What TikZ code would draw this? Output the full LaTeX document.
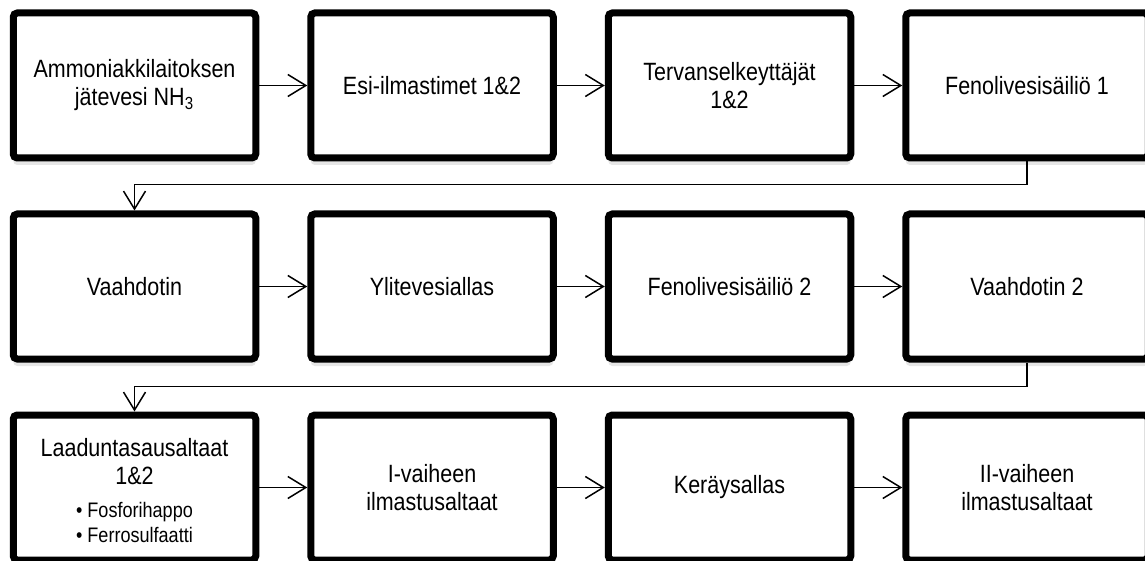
\documentclass[tikz,border=0pt]{standalone}
\usepackage{fontspec}
\setmainfont{Liberation Sans}[FakeStretch=0.86]
\usepackage{tikz}
\usetikzlibrary{positioning}
\usetikzlibrary{arrows.meta}
\usetikzlibrary{shadows}
\usepackage{xcolor}

\tikzset{
	stage/.style={draw=black, fill=white, line width=3.5pt, rounded corners=2pt,
		minimum width=121.25pt, minimum height=72.5pt, inner sep=2pt, align=center,
		font=\fontsize{12.5}{14}\selectfont,
		drop shadow={shadow xshift=0pt, shadow yshift=-3.5pt, opacity=0.2}},
	flow/.style={black, line width=0.75pt, -{Straight Barb[length=9pt, width=11pt]}},
}

\begin{document}
\begin{tikzpicture}
	\clip (0,0) rectangle (572.5pt,-280.5pt);
	\useasboundingbox (0,0) rectangle (572.5pt,-280.5pt);

	\node[stage] (amm) at (67.25pt,-42.75pt) {Ammoniakkilaitoksen\\j\"atevesi NH\textsubscript{3}};
	\node[stage, right=24pt of amm] (esi) {Esi-ilmastimet 1\&2};
	\node[stage, right=24pt of esi] (terva) {Tervanselkeytt\"aj\"at\\1\&2};
	\node[stage, right=24pt of terva] (fenA) {Fenolivesis\"aili\"o 1};

	\node[stage, below=24.5pt of amm] (vaahA) {Vaahdotin};
	\node[stage, right=24pt of vaahA] (ylite) {Ylitevesiallas};
	\node[stage, right=24pt of ylite] (fenB) {Fenolivesis\"aili\"o 2};
	\node[stage, right=24pt of fenB] (vaahB) {Vaahdotin 2};

	\node[stage, below=24.5pt of vaahA] (laatu) {\rule{0pt}{16pt}Laaduntasausaltaat\\1\&2\\[2.5pt]
		{\fontsize{10.5}{12.5}\selectfont\begin{tabular}[t]{@{}l@{}}\textbullet\ Fosforihappo\\\textbullet\ Ferrosulfaatti\end{tabular}}};
	\node[stage, right=24pt of laatu] (ilmA) {I-vaiheen\\ilmastusaltaat};
	\node[stage, right=24pt of ilmA] (keray) {Ker\"aysallas};
	\node[stage, right=24pt of keray] (ilmB) {II-vaiheen\\ilmastusaltaat};

	\draw[flow] (amm.east) -- (esi.west);
	\draw[flow] (esi.east) -- (terva.west);
	\draw[flow] (terva.east) -- (fenA.west);
	\draw[flow] (fenA.south) -- ++(0,-11.5pt) -| (vaahA.north);

	\draw[flow] (vaahA.east) -- (ylite.west);
	\draw[flow] (ylite.east) -- (fenB.west);
	\draw[flow] (fenB.east) -- (vaahB.west);
	\draw[flow] (vaahB.south) -- ++(0,-12pt) -| (laatu.north);

	\draw[flow] (laatu.east) -- (ilmA.west);
	\draw[flow] (ilmA.east) -- (keray.west);
	\draw[flow] (keray.east) -- (ilmB.west);
\end{tikzpicture}
\end{document}
